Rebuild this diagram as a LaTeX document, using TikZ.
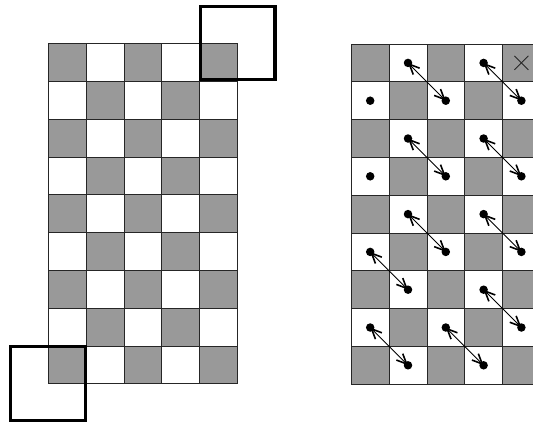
\documentclass[tikz,border=0pt]{standalone}
\usetikzlibrary{arrows.meta}
\definecolor{cgray}{RGB}{153,153,153}
\begin{document}
\begin{tikzpicture}[x=1pt,y=-1pt,
  cellg/.style={fill=cgray, draw=black!85, line width=0.8pt},
  cellw/.style={fill=white, draw=black!85, line width=0.8pt},
  boldsq/.style={draw=black, line width=3.3pt},
  dot/.style={circle, fill=black, inner sep=0pt, minimum size=8.5pt},
  link/.style={line width=0.9pt, {Straight Barb[length=10pt,width=9pt,line width=1.6pt]}-{Straight Barb[length=10pt,width=9pt,line width=1.6pt]}},
  cross/.style={line width=0.8pt, draw=black!85}]
\useasboundingbox (0,0) rectangle (533,424);
\clip (0,0) rectangle (533,424);
% left board
\foreach \r in {0,...,8} {
  \foreach \c in {0,...,4} {
    \pgfmathtruncatemacro\s{mod(\r+\c,2)}
    \ifnum\s=0
      \draw[cellg] ({48.3+\c*37.8},{43.5+\r*37.8}) rectangle ++(37.8,37.8);
    \else
      \draw[cellw] ({48.3+\c*37.8},{43.5+\r*37.8}) rectangle ++(37.8,37.8);
    \fi
  }
}
\draw[boldsq] (200.3,6.2) rectangle (275,79.3);
\draw[boldsq] (10.8,346.2) rectangle (85.8,420.8);
% right board
\foreach \r in {0,...,8} {
  \foreach \c in {0,...,4} {
    \pgfmathtruncatemacro\s{mod(\r+\c,2)}
    \ifnum\s=0
      \draw[cellg] ({351.3+\c*37.8},{44+\r*37.8}) rectangle ++(37.8,37.8);
    \else
      \draw[cellw] ({351.3+\c*37.8},{44+\r*37.8}) rectangle ++(37.8,37.8);
    \fi
  }
}
% dot positions
\foreach \c/\r in {1/0,3/0,0/1,2/1,4/1,1/2,3/2,0/3,2/3,4/3,1/4,3/4,0/5,2/5,4/5,1/6,3/6,0/7,2/7,4/7,1/8,3/8} {
  \coordinate (p\c-\r) at ({351.3+(\c+0.5)*37.8},{44+(\r+0.5)*37.8});
}
\draw[link] (p1-0) -- (p2-1);
\draw[link] (p3-0) -- (p4-1);
\draw[link] (p1-2) -- (p2-3);
\draw[link] (p3-2) -- (p4-3);
\draw[link] (p1-4) -- (p2-5);
\draw[link] (p3-4) -- (p4-5);
\draw[link] (p0-5) -- (p1-6);
\draw[link] (p3-6) -- (p4-7);
\draw[link] (p0-7) -- (p1-8);
\draw[link] (p2-7) -- (p3-8);
\foreach \c/\r in {1/0,3/0,0/1,2/1,4/1,1/2,3/2,0/3,2/3,4/3,1/4,3/4,0/5,2/5,4/5,1/6,3/6,0/7,2/7,4/7,1/8,3/8} {
  \node[dot] (d\c-\r) at (p\c-\r) {};
}
\coordinate (xc) at ({351.3+4.5*37.8},{44+0.5*37.8});
\draw[cross] ([shift={(-7,-7)}]xc) -- ([shift={(7,7)}]xc);
\draw[cross] ([shift={(-7,7)}]xc) -- ([shift={(7,-7)}]xc);
\end{tikzpicture}
\end{document}
